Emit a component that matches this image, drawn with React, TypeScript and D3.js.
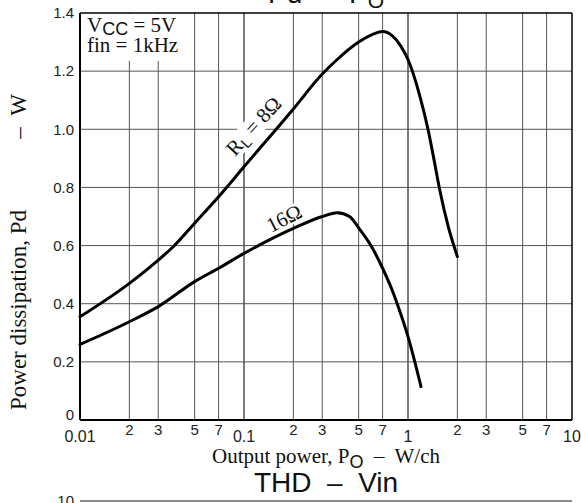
import React from 'react';
import * as d3 from 'd3';

// ---- data ----
const xMajorTicks = [0.01, 0.1, 1, 10];
const xMajorLabels = ['0.01', '0.1', '1', '10'];
const xMinorMultipliers = [2, 3, 5, 7];
const yTicks = [0, 0.2, 0.4, 0.6, 0.8, 1.0, 1.2, 1.4];
const yTickLabels = ['0', '0.2', '0.4', '0.6', '0.8', '1.0', '1.2', '1.4'];

const po8 = [0.01, 0.02, 0.03, 0.037, 0.05, 0.07, 0.1, 0.2, 0.3, 0.37, 0.5, 0.6, 0.7, 0.8, 0.9, 1.0, 1.18, 1.33, 1.43, 1.57, 1.76, 2.0];
const pd8 = [0.355, 0.47, 0.55, 0.596, 0.677, 0.768, 0.871, 1.07, 1.19, 1.24, 1.30, 1.325, 1.336, 1.322, 1.288, 1.24, 1.115, 0.995, 0.905, 0.785, 0.665, 0.562];

const po16 = [0.01, 0.02, 0.03, 0.05, 0.07, 0.1, 0.2, 0.3, 0.37, 0.44, 0.5, 0.6, 0.7, 0.8, 0.9, 1.0, 1.2];
const pd16 = [0.26, 0.338, 0.39, 0.476, 0.522, 0.573, 0.659, 0.70, 0.713, 0.70, 0.661, 0.596, 0.522, 0.447, 0.367, 0.287, 0.115];

const SANS = '"Liberation Sans", Arial, Helvetica, sans-serif';
const SERIF = '"Liberation Serif", "Times New Roman", serif';

export default function App() {
  const L = 80, R = 572, T = 13, B = 420;
  const x = d3.scaleLog().domain([0.01, 10]).range([L, R]);
  const y = d3.scaleLinear().domain([0, 1.4]).range([B, T]);

  const line = d3
    .line<[number, number]>()
    .x((d) => x(d[0]))
    .y((d) => y(d[1]))
    .curve(d3.curveMonotoneX);

  const d8 = line(po8.map((p, i) => [p, pd8[i]] as [number, number])) || '';
  const d16 = line(po16.map((p, i) => [p, pd16[i]] as [number, number])) || '';

  const minorVals: number[] = [];
  xMajorTicks.slice(0, 3).forEach((m) => xMinorMultipliers.forEach((k) => minorVals.push(m * k)));

  const lbl8 = `translate(${x(0.088)},${y(0.905)}) rotate(-47.5)`;
  const lbl16 = `translate(${x(0.146)},${y(0.643)}) rotate(-27)`;

  return (
    <svg width={581} height={503} style={{ position: 'absolute', left: 0, top: 0, background: 'white' }}>
      <rect x={0} y={0} width={581} height={503} fill="white" />
      {/* title */}
      <text x={326} y={3} textAnchor="middle" fontFamily={SANS} fontSize={28} fill="#111" style={{ whiteSpace: 'pre' }}>
        {'Pd  –  P'}
        <tspan fontSize={21} dy={5}>O</tspan>
      </text>

      {/* grid */}
      {minorVals.map((v) => (
        <line key={'v' + v} x1={x(v)} x2={x(v)} y1={T} y2={B} stroke="#555" strokeWidth={1} />
      ))}
      {[0.1, 1].map((v) => (
        <line key={'V' + v} x1={x(v)} x2={x(v)} y1={T} y2={B} stroke="#222" strokeWidth={1.2} />
      ))}
      {yTicks.slice(1, -1).map((v) => (
        <line key={'h' + v} x1={L} x2={R} y1={y(v)} y2={y(v)} stroke="#555" strokeWidth={1} />
      ))}

      {/* legend box */}
      <rect x={L + 1} y={T + 1} width={102} height={47} fill="white" />

      {/* label backgrounds */}
      <g transform={lbl8}>
        <rect x={-2} y={-17} width={76} height={21} fill="white" />
      </g>
      <g transform={lbl16}>
        <rect x={-2} y={-16} width={42} height={18} fill="white" />
      </g>

      {/* curves */}
      <path d={d8} fill="none" stroke="#000" strokeWidth={3} strokeLinecap="round" />
      <path d={d16} fill="none" stroke="#000" strokeWidth={3} strokeLinecap="round" />

      {/* frame */}
      <line x1={L} x2={R} y1={T} y2={T} stroke="#000" strokeWidth={1.5} />
      <line x1={R} x2={R} y1={T} y2={B} stroke="#000" strokeWidth={1.5} />
      <line x1={L} x2={L} y1={T} y2={B} stroke="#000" strokeWidth={2} />
      <line x1={L} x2={R} y1={B} y2={B} stroke="#000" strokeWidth={2} />

      {/* curve labels */}
      <g transform={lbl8}>
        <text x={0} y={0} fontFamily={SERIF} fontSize={21} fill="#111" style={{ whiteSpace: 'pre' }}>
          R
          <tspan fontFamily={SANS} fontSize={15} dy={4}>L</tspan>
          <tspan dy={-4}>{' = 8Ω'}</tspan>
        </text>
      </g>
      <g transform={lbl16}>
        <text x={0} y={0} fontFamily={SERIF} fontSize={21} fill="#111">16Ω</text>
      </g>

      {/* legend text */}
      <text x={87} y={32} fontFamily={SERIF} fontSize={21} fill="#111" style={{ whiteSpace: 'pre' }}>
        V
        <tspan fontFamily={SANS} fontSize={18} dy={3}>CC</tspan>
        <tspan dy={-3}>{' = 5V'}</tspan>
      </text>
      <text x={87} y={52} fontFamily={SERIF} fontSize={21} fill="#111">fin = 1kHz</text>

      {/* y tick labels */}
      {yTicks.map((v, i) => (
        <text
          key={'yl' + v}
          x={74}
          y={v === 0 ? B : y(v)}
          dy={v === 0 ? 0 : '0.35em'}
          textAnchor="end"
          fontFamily={SANS}
          fontSize={15}
          fill="#222"
        >
          {yTickLabels[i]}
        </text>
      ))}

      {/* x tick labels */}
      {xMajorTicks.map((v, i) => (
        <text key={'xl' + v} x={x(v)} y={442} textAnchor="middle" fontFamily={SANS} fontSize={16} fill="#222">
          {xMajorLabels[i]}
        </text>
      ))}
      {minorVals.map((v) => (
        <text key={'xm' + v} x={x(v)} y={435} textAnchor="middle" fontFamily={SANS} fontSize={15} fill="#222">
          {String(Math.round(v / Math.pow(10, Math.floor(Math.log10(v) + 1e-9))))}
        </text>
      ))}

      {/* axis titles */}
      <text x={326} y={463} textAnchor="middle" fontFamily={SERIF} fontSize={21} fill="#111" style={{ whiteSpace: 'pre' }}>
        {'Output power, P'}
        <tspan fontFamily={SANS} fontSize={18} dy={5}>O</tspan>
        <tspan dy={-5}>{'  –  W/ch'}</tspan>
      </text>
      <text transform="translate(26,410) rotate(-90)" textAnchor="start" fontFamily={SERIF} fontSize={23} fill="#111">
        Power dissipation, Pd
      </text>
      <text transform="translate(26,133) rotate(-90)" textAnchor="middle" fontFamily={SERIF} fontSize={23} fill="#111">
        –
      </text>
      <text transform="translate(26,105) rotate(-90)" textAnchor="middle" fontFamily={SERIF} fontSize={23} fill="#111">
        W
      </text>

      {/* next chart header */}
      <text x={326} y={492} textAnchor="middle" fontFamily={SANS} fontSize={28} fill="#111" style={{ whiteSpace: 'pre' }}>
        {'THD  –  Vin'}
      </text>
      <line x1={L} x2={R} y1={501} y2={501} stroke="#666" strokeWidth={1.5} />
      <text x={74} y={501} dy="0.35em" textAnchor="end" fontFamily={SANS} fontSize={15} fill="#222">10</text>
    </svg>
  );
}
